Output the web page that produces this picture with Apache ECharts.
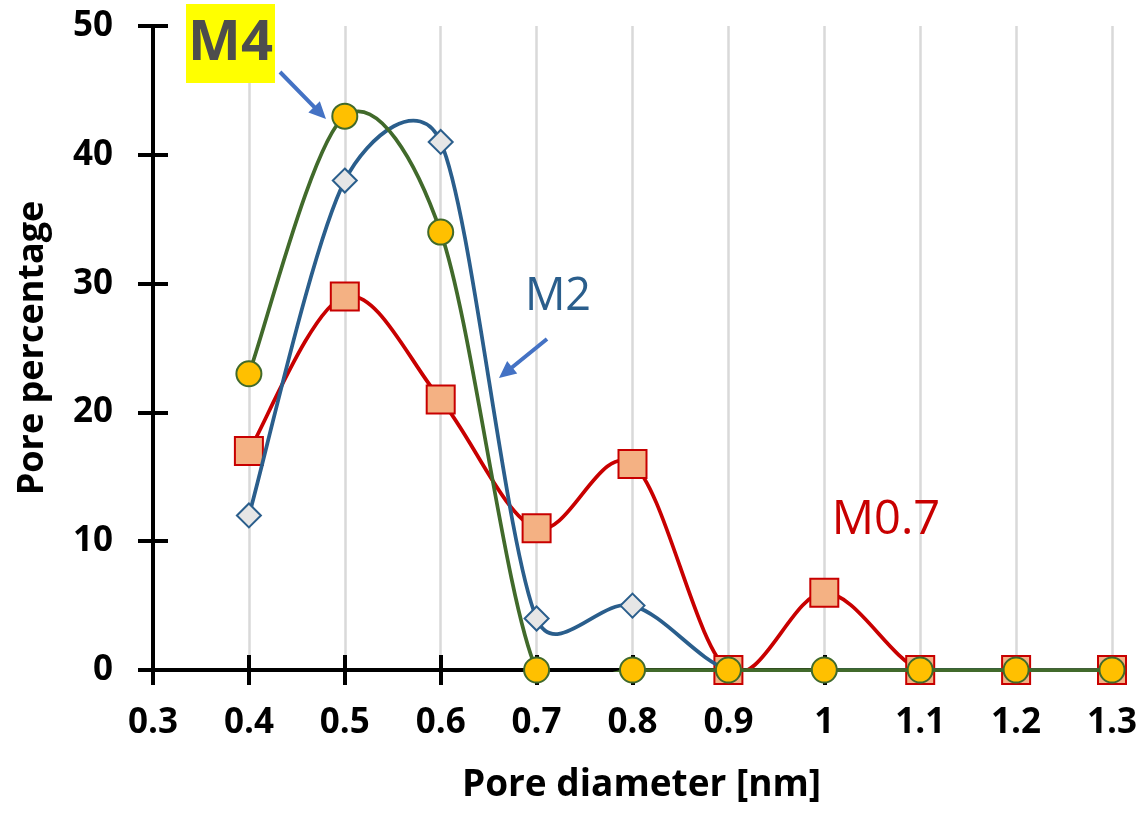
<!DOCTYPE html>
<html>
<head>
<meta charset="utf-8">
<script src="https://cdn.jsdelivr.net/npm/echarts@6/dist/echarts.min.js"></script>
<style>
  html, body { margin: 0; padding: 0; background: #ffffff; }
  #chart { width: 1145px; height: 815px; }
</style>
</head>
<body>
<div id="chart"></div>
<script>
// Pore diameter (nm) and pore percentage of each sample
const diameters = [0.4, 0.5, 0.6, 0.7, 0.8, 0.9, 1.0, 1.1, 1.2, 1.3];
const m07 = [17, 29, 21, 11, 16, 0, 6, 0, 0, 0];
const m2  = [12, 38, 41, 4, 5, 0, 0, 0, 0, 0];
const m4  = [23, 43, 34, 0, 0, 0, 0, 0, 0, 0];

const xRange = [0.3, 1.3];
const yRange = [0, 50];

const FONT = '"Open Sans", "Liberation Sans", sans-serif';
const LINE_W = 3.75;

// Spreadsheet-style smoothed line: cubic Bezier segments whose control
// points follow the neighbouring points (1/6 tension), limited to half
// of the segment length.
function smoothPath(pts) {
  const dist = (a, b) => Math.hypot(b[0] - a[0], b[1] - a[1]);
  let d = 'M' + pts[0][0] + ',' + pts[0][1];
  for (let i = 0; i < pts.length - 1; i++) {
    const p0 = pts[i - 1] || pts[i];
    const p1 = pts[i];
    const p2 = pts[i + 1];
    const p3 = pts[i + 2] || pts[i + 1];
    const d02 = dist(p0, p2), d12 = dist(p1, p2), d13 = dist(p1, p3);
    let f1 = 1 / 6, f2 = 1 / 6;
    if (d02 > 0 && d02 / 6 >= d12 / 2) f1 = d12 / (2 * d02);
    if (d13 > 0 && d13 / 6 >= d12 / 2) f2 = d12 / (2 * d13);
    const c1 = [p1[0] + f1 * (p2[0] - p0[0]), p1[1] + f1 * (p2[1] - p0[1])];
    const c2 = [p2[0] - f2 * (p3[0] - p1[0]), p2[1] - f2 * (p3[1] - p1[1])];
    d += 'C' + c1[0] + ',' + c1[1] + ' ' + c2[0] + ',' + c2[1] + ' ' + p2[0] + ',' + p2[1];
  }
  return d;
}

function curveSeries(name, values, color, z) {
  return {
    name: name,
    type: 'custom',
    clip: true,
    lineStyle: { width: LINE_W },
    z: z,
    silent: true,
    data: diameters.map((x, i) => [x, values[i]]),
    renderItem: function (params, api) {
      if (params.dataIndex !== 0) return null;
      const pts = diameters.map((x, i) => api.coord([x, values[i]]));
      return {
        type: 'path',
        shape: { pathData: smoothPath(pts) },
        style: { fill: 'none', stroke: color, lineWidth: LINE_W, lineJoin: 'round', lineCap: 'round' }
      };
    }
  };
}

function markerSeries(name, values, symbol, size, fill, border, z) {
  return {
    name: name,
    type: 'scatter',
    z: z,
    clip: false,
    symbol: symbol,
    symbolSize: size,
    itemStyle: { color: fill, borderColor: border, borderWidth: 2, opacity: 1 },
    data: diameters.map((x, i) => [x, values[i]])
  };
}

// Arrow outline (shaft + head) from a start point to its tip
function arrowPoints(x1, y1, x2, y2, shaft, headLen, headW) {
  const len = Math.hypot(x2 - x1, y2 - y1);
  const ux = (x2 - x1) / len, uy = (y2 - y1) / len;
  const nx = -uy, ny = ux;
  const bx = x2 - ux * headLen, by = y2 - uy * headLen;
  return [
    [x1 + nx * shaft / 2, y1 + ny * shaft / 2],
    [bx + nx * shaft / 2, by + ny * shaft / 2],
    [bx + nx * headW / 2, by + ny * headW / 2],
    [x2, y2],
    [bx - nx * headW / 2, by - ny * headW / 2],
    [bx - nx * shaft / 2, by - ny * shaft / 2],
    [x1 - nx * shaft / 2, y1 - ny * shaft / 2]
  ];
}

const RED = '#c80000', BLUE = '#2a5e8c', GREEN = '#416a2b', ARROW = '#4472c4';

const chart = echarts.init(document.getElementById('chart'), null, { renderer: 'canvas' });

const axisLineStyle = { color: '#000000', width: 4 };

chart.setOption({
  animation: false,
  backgroundColor: '#ffffff',
  grid: { left: 153, right: 33, top: 26, bottom: 145, containLabel: false },
  xAxis: [
    {
      type: 'value', min: xRange[0], max: xRange[1], interval: 0.1,
      name: 'Pore diameter [nm]', nameLocation: 'middle', nameGap: 97,
      nameTextStyle: { fontFamily: FONT, fontWeight: 'bold', fontSize: 37, color: '#000', padding: [0, 0, 0, 18] },
      axisLine: { show: true, onZero: false, lineStyle: axisLineStyle },
      axisTick: { show: true, inside: false, length: 15, lineStyle: axisLineStyle },
      axisLabel: { margin: 36, fontFamily: FONT, fontWeight: 'bold', fontSize: 35, color: '#000' },
      splitLine: { show: true, lineStyle: { color: '#d9d9d9', width: 2.5 } }
    },
    {
      type: 'value', min: xRange[0], max: xRange[1], interval: 0.1, position: 'bottom',
      axisLine: { show: false }, axisLabel: { show: false }, splitLine: { show: false },
      axisTick: { show: true, inside: true, length: 15, lineStyle: axisLineStyle }
    }
  ],
  yAxis: [
    {
      type: 'value', min: yRange[0], max: yRange[1], interval: 10,
      name: 'Pore percentage', nameLocation: 'middle', nameGap: 102, nameRotate: 90,
      nameTextStyle: { fontFamily: FONT, fontWeight: 'bold', fontSize: 36, color: '#000' },
      axisLine: { show: true, onZero: false, lineStyle: axisLineStyle },
      axisTick: { show: true, inside: false, length: 15, lineStyle: axisLineStyle },
      axisLabel: { margin: 40, fontFamily: FONT, fontWeight: 'bold', fontSize: 35, color: '#000' },
      splitLine: { show: false }
    },
    {
      type: 'value', min: yRange[0], max: yRange[1], interval: 10, position: 'left',
      axisLine: { show: false }, axisLabel: { show: false }, splitLine: { show: false },
      axisTick: { show: true, inside: true, length: 15, lineStyle: axisLineStyle }
    }
  ],
  series: [
    curveSeries('M0.7', m07, RED, 2),
    markerSeries('M0.7', m07, 'rect', 28, '#f4b183', RED, 3),
    curveSeries('M2', m2, BLUE, 4),
    markerSeries('M2', m2, 'diamond', 24, '#e6e6e6', BLUE, 5),
    curveSeries('M4', m4, GREEN, 6),
    markerSeries('M4', m4, 'circle', 25, '#ffc000', GREEN, 7)
  ],
  graphic: [
    { type: 'rect', z: 100, shape: { x: 186, y: 4, width: 89, height: 79 }, style: { fill: '#ffff00' } },
    { type: 'text', z: 101, x: 230.5, y: 44,
      style: { text: 'M4', fontFamily: FONT, fontWeight: 'bold', fontSize: 56, fill: '#4d4d4d', align: 'center', verticalAlign: 'middle' } },
    { type: 'polygon', z: 101, shape: { points: arrowPoints(280, 72, 326, 119, 4, 17, 16) }, style: { fill: ARROW } },
    { type: 'text', z: 101, x: 558, y: 297,
      style: { text: 'M2', fontFamily: FONT, fontSize: 45, fill: BLUE, align: 'center', verticalAlign: 'middle' } },
    { type: 'polygon', z: 101, shape: { points: arrowPoints(547, 339, 499, 378, 4, 17, 16) }, style: { fill: ARROW } },
    { type: 'text', z: 101, x: 886, y: 521,
      style: { text: 'M0.7', fontFamily: FONT, fontSize: 47, fill: RED, align: 'center', verticalAlign: 'middle' } }
  ]
});
</script>
</body>
</html>
